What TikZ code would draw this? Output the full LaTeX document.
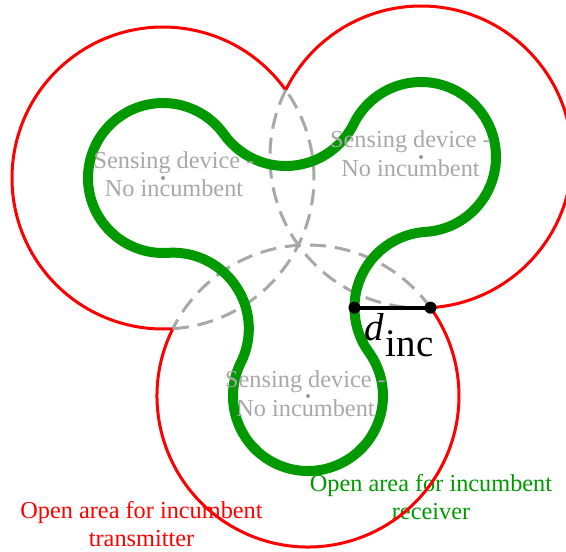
\documentclass[tikz,border=0pt]{standalone}
\usepackage{fontspec}
\setmainfont{Liberation Serif}
\usetikzlibrary{calc}
\definecolor{redc}{RGB}{255,0,0}
\definecolor{greenc}{RGB}{0,153,0}
\definecolor{grayc}{RGB}{168,168,168}
\tikzset{
  redline/.style={draw=redc, line width=3pt},
  dashline/.style={draw=grayc, line width=3pt, dash pattern=on 16pt off 9pt},
  greenline/.style={draw=greenc, line width=10pt},
  lbl/.style={align=center, inner sep=0pt, font=\fontsize{24.3}{28.5}\selectfont},
  graylbl/.style={lbl, text=grayc},
  centerdot/.style={circle, fill=grayc!90!black, inner sep=0pt, minimum size=4pt},
  enddot/.style={circle, fill=black, inner sep=0pt, minimum size=12pt}
}
\begin{document}
\begin{tikzpicture}[x=1pt,y=1pt]
\useasboundingbox (0,0) rectangle (566,-552);
% centres of the three sensing devices
\coordinate (A) at (163,-178);
\coordinate (B) at (421,-157);
\coordinate (C) at (308,-396);
\coordinate (PBC) at (430.49,-307.70);
\coordinate (PG) at (354.49,-307.70);
% outer labels
\node[lbl, text=greenc] (rxlbl) at (431,-497) {Open area for incumbent\\receiver};
\node[lbl, text=redc] (txlbl) at (141.5,-524) {Open area for incumbent\\transmitter};
% red outer boundary
\draw[redline] (A) ++(35.66:151) arc[start angle=35.66, end angle=273.74, radius=151];
\draw[redline] (B) ++(-86.40:151) arc[start angle=-86.40, end angle=153.65, radius=151];
\draw[redline] (C) ++(153.52:151) arc[start angle=153.52, end angle=395.79, radius=151];
% dashed inner arcs
\draw[dashline] (A) ++(-86.26:151) arc[start angle=-86.26, end angle=35.66, radius=151];
\draw[dashline] (B) ++(153.65:151) arc[start angle=153.65, end angle=273.60, radius=151];
\draw[dashline] (C) ++(35.79:151) arc[start angle=35.79, end angle=153.52, radius=151];
% green inner boundary
\draw[greenline] (A) ++(35.66:75)
  arc[start angle=35.66, end angle=273.74, radius=75]
  arc[start angle=93.74, end angle=-26.48, radius=76]
  arc[start angle=153.52, end angle=395.79, radius=75]
  arc[start angle=215.79, end angle=93.60, radius=76]
  arc[start angle=-86.40, end angle=153.65, radius=75]
  arc[start angle=333.65, end angle=215.66, radius=76] -- cycle;
% sensing devices
\node[centerdot] (dA) at (A) {};
\node[centerdot] (dB) at (B) {};
\node[centerdot] (dC) at (C) {};
\node[graylbl] (tA) at (174,-174.4) {Sensing device -\\No incumbent};
\node[graylbl] (tB) at (410.5,-153.8) {Sensing device -\\No incumbent};
\node[graylbl] (tC) at (305.5,-393.8) {Sensing device -\\No incumbent};
% d_inc marker
\node[enddot] (dotL) at (PG) {};
\node[enddot] (dotR) at (PBC) {};
\draw[line width=4pt] (dotL.center) -- (dotR.center);
\node[anchor=base west, inner sep=0pt, font=\fontsize{39}{39}\selectfont] (dinc) at (364,-340)
  {\textit{d}\kern2pt\raisebox{-16pt}{inc}};
\end{tikzpicture}
\end{document}
